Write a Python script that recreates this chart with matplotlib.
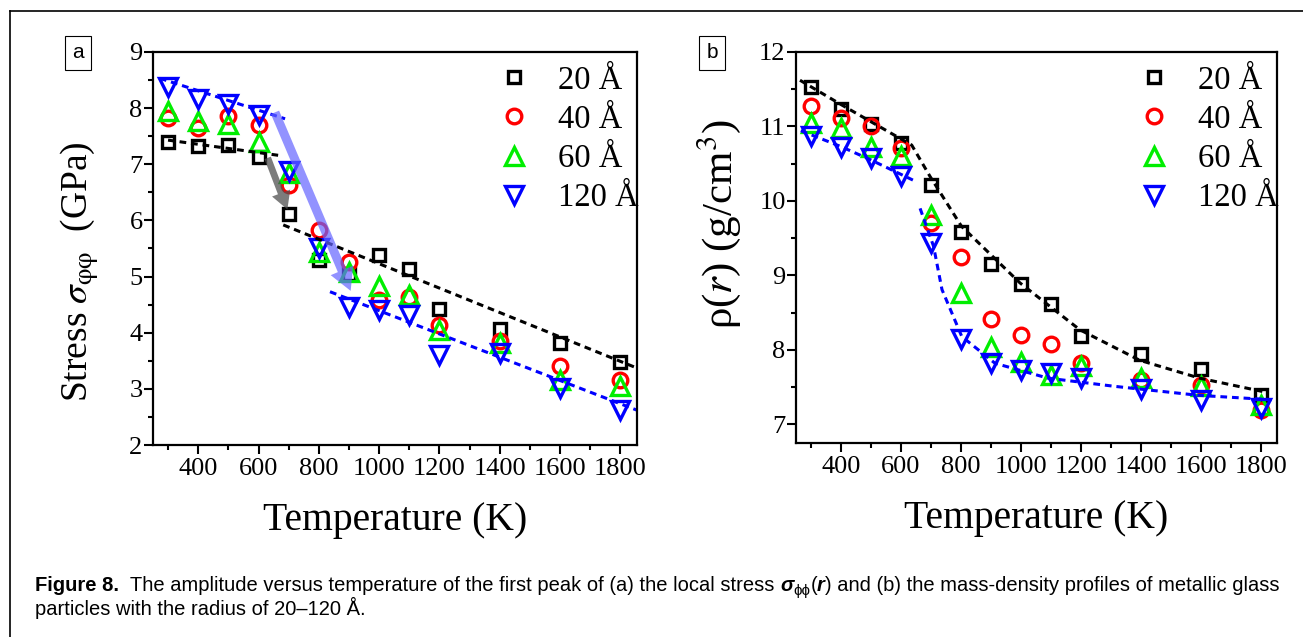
import matplotlib.pyplot as plt
import numpy as np
from matplotlib.lines import Line2D
from matplotlib.ticker import MultipleLocator

plt.rcParams['font.family'] = ['Liberation Serif', 'DejaVu Serif']
plt.rcParams['mathtext.fontset'] = 'stix'

# ---- data ----
temps = [300, 400, 500, 600, 700, 800, 900, 1000, 1100, 1200, 1400, 1600, 1800]
labels = ['20 Å', '40 Å', '60 Å', '120 Å']

# (a) stress peak amplitude (GPa)
stress_20 = [7.40, 7.32, 7.34, 7.13, 6.11, 5.29, 5.05, 5.38, 5.14, 4.43, 4.07, 3.81, 3.47]
stress_40 = [7.83, 7.64, 7.86, 7.70, 6.63, 5.83, 5.26, 4.59, 4.64, 4.14, 3.85, 3.40, 3.15]
stress_60 = [7.94, 7.77, 7.71, 7.40, 6.84, 5.44, 5.09, 4.83, 4.67, 4.05, 3.81, 3.16, 3.05]
stress_120 = [8.38, 8.16, 8.07, 7.87, 6.88, 5.50, 4.46, 4.40, 4.31, 3.60, 3.63, 3.01, 2.62]

# (b) density peak amplitude (g/cm3)
rho_20 = [11.53, 11.24, 11.03, 10.78, 10.22, 9.58, 9.15, 8.88, 8.61, 8.19, 7.95, 7.74, 7.39]
rho_40 = [11.28, 11.11, 11.01, 10.71, 9.70, 9.25, 8.41, 8.20, 8.08, 7.82, 7.60, 7.53, 7.19]
rho_60 = [11.05, 10.98, 10.73, 10.60, 9.81, 8.76, 8.04, 7.84, 7.66, 7.78, 7.62, 7.51, 7.26]
rho_120 = [10.87, 10.73, 10.58, 10.33, 9.43, 8.14, 7.83, 7.73, 7.69, 7.62, 7.48, 7.33, 7.22]

# guide lines
a_black1_T, a_black1_y = [300, 665], [7.43, 7.16]
a_black2_T, a_black2_y = [682, 1855], [5.92, 3.37]
a_blue1_T, a_blue1_y = [273, 688], [8.53, 7.81]
a_blue2_T, a_blue2_y = [837, 1855], [4.73, 2.62]

b_black_T = [230, 402, 636, 697, 802, 997, 1197, 1397, 1597, 1808]
b_black_y = [11.70, 11.29, 10.75, 10.33, 9.66, 8.90, 8.27, 7.86, 7.62, 7.44]
b_blue1_T = [230, 400, 500, 640]
b_blue1_y = [11.00, 10.73, 10.55, 10.28]
b_blue2_T = [664, 709, 737, 803, 914, 1091, 1314, 1592, 1837]
b_blue2_y = [9.90, 9.39, 8.81, 8.18, 7.82, 7.62, 7.51, 7.39, 7.33]

# arrows (start, end) in data units
gray_arrow = [(627, 7.16), (699, 6.15)]
blue_arrow = [(651, 7.97), (909, 4.70)]

colors = ['black', '#ff0000', '#00ee00', '#0000ff']
markers = ['s', 'o', '^', 'v']
msizes = [9, 10.5, 13, 13]

fig = plt.figure(figsize=(13.03, 6.37), dpi=100)
ax_a = fig.add_axes([0.1174, 0.3014, 0.3715, 0.617])
ax_b = fig.add_axes([0.6109, 0.3046, 0.3692, 0.6138])


def style_axis(ax):
    for s in ax.spines.values():
        s.set_linewidth(1.6)
    ax.xaxis.set_major_locator(MultipleLocator(200))
    ax.xaxis.set_minor_locator(MultipleLocator(100))
    ax.yaxis.set_major_locator(MultipleLocator(1))
    ax.yaxis.set_minor_locator(MultipleLocator(0.5))
    ax.tick_params(which='both', direction='out', top=False, right=False, width=1.5)
    ax.tick_params(which='major', length=6.5, labelsize=19, pad=3)
    ax.tick_params(axis='y', which='major', pad=1)
    ax.tick_params(which='minor', length=3.5)
    ax.set_xlim(250, 1855)
    ax.set_xlabel('Temperature (K)', fontsize=28.5, labelpad=16)


def draw_series(ax, series):
    handles = []
    for ys, c, m, ms, lab in zip(series, colors, markers, msizes, labels):
        h, = ax.plot(temps, ys, linestyle='none', marker=m, ms=ms, mfc='none',
                     mec=c, mew=2.4, label=lab)
        handles.append(h)
    return handles


def add_legend(ax, handles):
    ax.legend(handles=handles, loc='upper right', bbox_to_anchor=(1.03, 1.0),
              frameon=False, fontsize=23.5, labelspacing=0.27, handletextpad=0.75,
              borderaxespad=0.0, handlelength=1.2)


dash = (0, (2.2, 1.6))

# ---- panel a ----
style_axis(ax_a)
ax_a.set_ylim(2, 9)
h = draw_series(ax_a, [stress_20, stress_40, stress_60, stress_120])
ax_a.plot(a_black1_T, a_black1_y, color='black', lw=2.2, linestyle=dash)
ax_a.plot(a_black2_T, a_black2_y, color='black', lw=2.2, linestyle=dash)
ax_a.plot(a_blue1_T, a_blue1_y, color='#0000ff', lw=2.2, linestyle=dash)
ax_a.plot(a_blue2_T, a_blue2_y, color='#0000ff', lw=2.2, linestyle=dash)
ax_a.annotate('', xy=gray_arrow[1], xytext=gray_arrow[0],
              arrowprops=dict(arrowstyle='simple,head_length=0.9,head_width=1.0,tail_width=0.35',
                              color='#505050', alpha=0.75, mutation_scale=14, lw=0))
ax_a.annotate('', xy=blue_arrow[1], xytext=blue_arrow[0],
              arrowprops=dict(arrowstyle='simple,head_length=1.0,head_width=1.1,tail_width=0.4',
                              color='#6464ff', alpha=0.7, mutation_scale=16, lw=0))
ax_a.set_ylabel(r'Stress $\sigma_{\mathrm{\varphi\varphi}}$  (GPa)', fontsize=27)
ax_a.yaxis.set_label_coords(-0.108, 0.44)
add_legend(ax_a, h)

# ---- panel b ----
style_axis(ax_b)
ax_b.set_ylim(6.75, 12)
h = draw_series(ax_b, [rho_20, rho_40, rho_60, rho_120])
ax_b.plot(b_black_T, b_black_y, color='black', lw=2.2, linestyle=dash)
ax_b.plot(b_blue1_T, b_blue1_y, color='#0000ff', lw=2.2, linestyle=dash)
ax_b.plot(b_blue2_T, b_blue2_y, color='#0000ff', lw=2.2, linestyle=dash)
ax_b.set_ylabel(r'ρ($r$) (g/cm$^3$)', fontsize=31)
ax_b.yaxis.set_label_coords(-0.11, 0.56)
add_legend(ax_b, h)

# panel tags
for x, tag in [(78 / 1303, 'a'), (712 / 1303, 'b')]:
    fig.text(x, 1 - 53 / 637, tag, family='Liberation Sans', fontsize=15,
             ha='center', va='center',
             bbox=dict(boxstyle='square,pad=0.35', fc='white', ec='black', lw=0.8))

# outer frame (left and top)
fig.add_artist(Line2D([10 / 1303, 10 / 1303], [0, 1 - 11 / 637], color='black', lw=1.2))
fig.add_artist(Line2D([10 / 1303, 1], [1 - 11 / 637, 1 - 11 / 637], color='black', lw=1.2))

# caption, drawn piece by piece
fig.canvas.draw()
renderer = fig.canvas.get_renderer()


def write_pieces(x0, y0, pieces):
    x = x0
    for txt, kw in pieces:
        dy = kw.pop('dy', 0)
        t = fig.text(x, y0 + dy, txt, family=['Liberation Sans', 'DejaVu Sans'],
                     va='baseline', ha='left', **kw)
        bb = t.get_window_extent(renderer)
        x += bb.width / fig.bbox.width


fs = 14.5
write_pieces(35 / 1303, 1 - 591 / 637, [
    ('Figure 8.', dict(fontsize=fs, weight='bold')),
    ('  The amplitude versus temperature of the first peak of (a) the local stress ',
     dict(fontsize=fs)),
    ('σ', dict(fontsize=fs, weight='bold', style='italic')),
    ('ϕϕ', dict(fontsize=fs * 0.75, dy=-4 / 637)),
    ('(', dict(fontsize=fs)),
    ('r', dict(fontsize=fs, weight='bold', style='italic')),
    (') and (b) the mass-density profiles of metallic glass', dict(fontsize=fs)),
])
write_pieces(35 / 1303, 1 - 615 / 637, [
    ('particles with the radius of 20–120 Å.', dict(fontsize=fs)),
])

fig.savefig('out.png', dpi=100)
